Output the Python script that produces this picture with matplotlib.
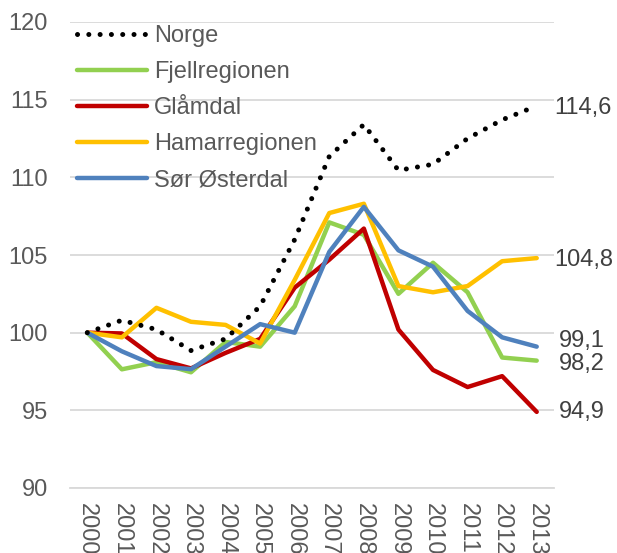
import matplotlib
matplotlib.use("Agg")
import matplotlib.pyplot as plt

years = [str(y) for y in range(2000, 2014)]
norge = [100, 100.8, 100.2, 98.85, 99.6, 101.7, 106.0, 111.35, 113.4, 110.45, 110.84, 112.5, 113.7, 114.6]
fjell = [100, 97.64, 98.1, 97.45, 99.4, 99.1, 101.7, 107.1, 106.3, 102.5, 104.5, 102.6, 98.4, 98.2]
glomdal = [100, 99.95, 98.3, 97.7, 98.7, 99.6, 102.9, 104.7, 106.7, 100.2, 97.6, 96.5, 97.2, 94.9]
hamar = [100, 99.7, 101.6, 100.7, 100.5, 99.3, 103.4, 107.7, 108.3, 103.0, 102.6, 103.0, 104.6, 104.8]
soer = [100, 98.8, 97.85, 97.65, 99.1, 100.55, 100.0, 105.2, 108.1, 105.3, 104.25, 101.4, 99.7, 99.1]
end_labels = ["114,6", "98,2", "94,9", "104,8", "99,1"]
yticks = [90, 95, 100, 105, 110, 115, 120]

plt.rcParams['font.family'] = ['Liberation Sans', 'DejaVu Sans']
FS = 17

fig = plt.figure(figsize=(6.17, 5.53), dpi=100)
ax = fig.add_axes([70/617, 1-488/553, (554-70)/617, (488-22)/553])

x = list(range(len(years)))
lw = 3.2
ax.plot(x, norge, color='black', lw=3.6, linestyle=(0, (0.01, 2.25)),
        dash_capstyle='round', label='Norge', zorder=5)
ax.plot(x, fjell, color='#92D050', lw=lw, label='Fjellregionen', solid_capstyle='round')
ax.plot(x, glomdal, color='#C00000', lw=lw, label='Glåmdal', solid_capstyle='round')
ax.plot(x, hamar, color='#FFC000', lw=lw, label='Hamarregionen', solid_capstyle='round')
ax.plot(x, soer, color='#4F81BD', lw=lw, label='Sør Østerdal', solid_capstyle='round')

series_end = [norge[-1], fjell[-1], glomdal[-1], hamar[-1], soer[-1]]
offsets = [(18, -2), (22, -3), (22, 0), (18, -2), (22, 6)]
for val, lab, off in zip(series_end, end_labels, offsets):
    ax.annotate(lab, (x[-1], val), xytext=off, textcoords='offset pixels',
                ha='left', va='center', fontsize=FS, color='#404040',
                annotation_clip=False)

ax.set_xlim(-0.5, 13.5)
ax.set_ylim(90, 120)
ax.set_yticks(yticks)
ax.set_xticks(x)
ax.set_xticklabels(years, rotation=270, fontsize=FS, color='#595959', va='top', ha='center')
ax.tick_params(axis='y', labelsize=FS, labelcolor='#595959', length=0, pad=16)
ax.tick_params(axis='x', length=0, pad=11)
ax.grid(axis='y', color='#D9D9D9', lw=1.3)
ax.set_axisbelow(True)
for s in ['top', 'right', 'left']:
    ax.spines[s].set_visible(False)
ax.spines['bottom'].set_color('#D9D9D9')
ax.spines['bottom'].set_linewidth(1.3)

leg = ax.legend(loc='upper left', bbox_to_anchor=(0.009, 1.0), frameon=False,
                fontsize=FS, handlelength=2.95, handletextpad=0.3,
                labelspacing=0.6, borderaxespad=0.0, borderpad=0.12)
for t in leg.get_texts():
    t.set_color('#595959')

fig.savefig('out.png', dpi=100)
